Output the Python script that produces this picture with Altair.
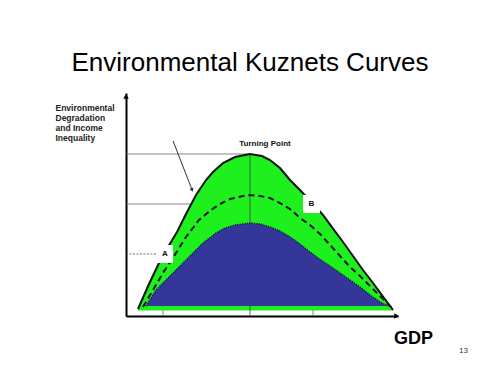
import altair as alt
import pandas as pd

# ---- data (x: GDP units 0-100, y: degradation units 0-100) ----
outer_x = [4.41, 8.46, 12.13, 15.44, 18.75, 22.06, 25.74, 29.41, 31.99, 35.66, 40.07, 45.59,
           50.0, 52.94, 56.62, 60.29, 63.97, 68.75, 72.43, 76.1, 79.78, 83.46, 87.13, 90.81, 94.49, 98.16]
outer_y = [3.14, 14.35, 23.77, 30.94, 37.67, 45.74, 54.26, 60.99, 64.57, 68.61, 71.3, 72.65,
           71.75, 69.96, 66.37, 60.99, 56.5, 50.22, 45.29, 39.19, 33.18, 26.91, 20.63, 14.8, 8.7, 2.69]
green_base = 2.5

dash_x = [6.25, 9.93, 13.6, 18.38, 22.06, 26.84, 31.25, 34.56, 38.24, 43.01, 45.59, 49.26, 52.94,
          56.62, 60.29, 63.97, 67.65, 71.32, 75.0, 78.68, 82.35, 86.03, 89.71, 93.38, 95.96, 98.16]
dash_y = [4.04, 11.66, 19.28, 28.25, 35.43, 43.05, 47.53, 50.22, 52.47, 53.81, 54.26, 53.81, 52.91,
          50.67, 47.98, 43.95, 40.81, 36.77, 31.84, 26.91, 21.97, 17.94, 13.45, 8.97, 5.83, 3.14]

blue_x = [7.35, 11.03, 15.81, 22.06, 28.31, 33.09, 36.4, 40.07, 45.59, 49.26, 52.94, 56.62, 60.29,
          63.97, 67.65, 71.32, 75.0, 78.68, 82.35, 86.03, 89.71, 93.38, 96.32]
blue_y = [4.48, 11.66, 17.49, 25.11, 32.74, 37.22, 39.46, 40.81, 41.7, 41.26, 39.91, 38.12, 35.43,
          32.29, 28.7, 25.34, 22.42, 19.28, 16.14, 13.0, 9.42, 6.28, 4.48]
blue_base = 4.48

# reference lines
grid_x = [0, 0, 45.59, 68.75, 13.6]
grid_x2 = [45.59, 65.07, 45.59, 68.75, 13.6]
grid_y = [72.65, 50.22, 0, 0, 0]
grid_y2 = [72.65, 50.22, 72.65, 46.2, 23.8]

# level A dashed reference
a_x, a_x2, a_y = 0, 11.4, 27.8

# label boxes
box_label = ["A", "B"]
box_x = [11.4, 65.07]
box_x2 = [17.3, 71.3]
box_y = [23.8, 46.2]
box_y2 = [31.8, 54.3]
box_tx = [14.3, 68.2]
box_ty = [27.8, 50.2]

# arrow pointing at the curve
arrow_x, arrow_y, arrow_x2, arrow_y2 = 17.3, 78.5, 24.3, 56.5

FONT = "Arial"
GREEN = "#1ef01e"
BLUE = "#34369a"

xs = alt.Scale(domain=[0, 100], nice=False, zero=False)
ys = alt.Scale(domain=[0, 100], nice=False, zero=False)

xaxis = alt.Axis(title="GDP", ticks=False, labels=False, grid=False, domainColor="black",
                 domainWidth=2, titleFont=FONT, titleFontSize=18, titleFontWeight="bold",
                 titleColor="black", titleAlign="center", titleBaseline="alphabetic",
                 titleX=287, titleY=27)
yaxis = alt.Axis(title=["Environmental", "Degradation", "and Income", "Inequality"],
                 ticks=False, labels=False, grid=False, domainColor="black", domainWidth=2,
                 titleFont=FONT, titleFontSize=8.5, titleFontWeight="bold", titleColor="#222",
                 titleAngle=0, titleAlign="left", titleBaseline="top", titleX=-71, titleY=10,
                 titleLineHeight=10)


def X(f="x"):
    return alt.X(f, type="quantitative", scale=xs, axis=xaxis)


def Y(f="y"):
    return alt.Y(f, type="quantitative", scale=ys, axis=yaxis)


outer = pd.DataFrame({"x": outer_x, "y": outer_y, "b": [green_base] * len(outer_x)})
dash = pd.DataFrame({"x": dash_x, "y": dash_y})
blue = pd.DataFrame({"x": blue_x, "y": blue_y, "b": [blue_base] * len(blue_x)})
grid = pd.DataFrame({"x": grid_x, "x2": grid_x2, "y": grid_y, "y2": grid_y2})
boxes = pd.DataFrame({"x": box_x, "x2": box_x2, "y": box_y, "y2": box_y2,
                      "tx": box_tx, "ty": box_ty, "label": box_label})

grid_layer = alt.Chart(grid.iloc[[0, 1, 3, 4]]).mark_rule(color="#666", strokeWidth=0.8).encode(
    x=X("x"), x2="x2", y=Y("y"), y2="y2")
center_v = alt.Chart(grid.iloc[[2]]).mark_rule(color="#444", strokeWidth=0.8).encode(
    x=X("x"), x2="x2", y=Y("y"), y2="y2")
a_line = alt.Chart(pd.DataFrame({"x": [a_x], "x2": [a_x2], "y": [a_y]})).mark_rule(
    color="#444", strokeWidth=0.8, strokeDash=[2, 1.5]).encode(x=X("x"), x2="x2", y=Y("y"))

green_area = alt.Chart(outer).mark_area(color=GREEN, opacity=1).encode(x=X(), y=Y(), y2="b")
blue_area = alt.Chart(blue).mark_area(color=BLUE, opacity=1).encode(x=X(), y=Y(), y2="b")
blue_edge = alt.Chart(blue).mark_line(color="#151540", strokeWidth=1.5, strokeDash=[1.2, 1.2]).encode(
    x=X(), y=Y())
dash_line = alt.Chart(dash).mark_line(color="#111", strokeWidth=2, strokeDash=[6, 4]).encode(
    x=X(), y=Y())
outer_line = alt.Chart(outer).mark_line(color="#111", strokeWidth=2).encode(x=X(), y=Y())

box_rects = alt.Chart(boxes).mark_rect(color="white").encode(x=X("x"), x2="x2", y=Y("y"), y2="y2")
box_text = alt.Chart(boxes).mark_text(font=FONT, fontSize=8, fontWeight="bold", color="#111",
                                      baseline="middle", align="center").encode(
    x=X("tx"), y=Y("ty"), text="label")

arrow = pd.DataFrame({"x": [arrow_x], "y": [arrow_y], "x2": [arrow_x2], "y2": [arrow_y2]})
arrow_line = alt.Chart(arrow).mark_rule(color="#333", strokeWidth=1).encode(
    x=X("x"), y=Y("y"), x2="x2", y2="y2")
arrow_head = alt.Chart(arrow).mark_point(shape="triangle-down", filled=True, color="#333",
                                         size=18, angle=339, opacity=1).encode(
    x=X("x2"), y=Y("y2"))

axis_heads = pd.DataFrame({"x": [0, 99.5], "y": [98.5, 0], "s": ["triangle-up", "triangle-right"]})
heads = alt.Chart(axis_heads).mark_point(filled=True, color="black", size=30, opacity=1).encode(
    x=X("x"), y=Y("y"), shape=alt.Shape("s:N", scale=None))

texts = pd.DataFrame({"x": [51.1, 124.1], "y": [76.2, -16.6], "t": ["Turning Point", "13"]})
tp_text = alt.Chart(texts.iloc[[0]]).mark_text(font=FONT, fontSize=8, fontWeight="bold",
                                               color="#111", baseline="alphabetic").encode(
    x=X("x"), y=Y("y"), text="t")
page_text = alt.Chart(texts.iloc[[1]]).mark_text(font=FONT, fontSize=8, color="#333",
                                                 baseline="alphabetic").encode(
    x=X("x"), y=Y("y"), text="t")

chart = alt.layer(
    grid_layer, a_line, green_area, center_v, blue_area, blue_edge, dash_line, outer_line,
    box_rects, box_text, arrow_line, arrow_head, heads, tp_text, page_text
).properties(
    width=272, height=223,
    title=alt.TitleParams("Environmental Kuznets Curves", font=FONT, fontSize=26,
                          fontWeight="normal", color="black", anchor="middle", dx=-12,
                          dy=25, offset=21, baseline="alphabetic"),
    autosize=alt.AutoSizeParams(type="none"),
    padding={"left": 126, "top": 93, "right": 102, "bottom": 59},
    background="white",
).configure_view(stroke=None)

chart.save("out.html", embed_options={"renderer": "svg", "actions": False})
